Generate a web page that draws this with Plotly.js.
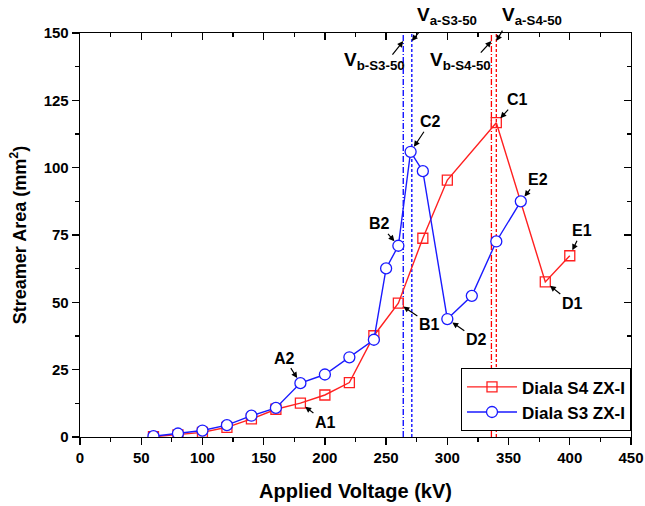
<!DOCTYPE html>
<html>
<head>
<meta charset="utf-8">
<script src="https://cdn.plot.ly/plotly-3.0.1.min.js"></script>
<style>html,body{margin:0;padding:0;background:#fff;}#chart{width:645px;height:506px;}</style>
</head>
<body>
<div id="chart"></div>
<script>
// ---- data ----
const voltS4 = [60, 80, 100, 120, 140, 160, 180, 200, 220, 240, 260, 280, 300, 340, 380, 400];
const areaS4 = [0.1, 0.8, 1.7, 3.6, 6.7, 10.3, 12.6, 15.6, 20.2, 37.6, 49.7, 73.8, 95.4, 116.7, 57.6, 67.3];
const voltS3 = [60, 80, 100, 120, 140, 160, 180, 200, 220, 240, 250, 260, 270, 280, 300, 320, 340, 360];
const areaS3 = [0.3, 1.3, 2.4, 4.4, 7.9, 10.8, 20.0, 23.2, 29.6, 36.1, 62.6, 71.0, 105.9, 98.7, 43.8, 52.4, 72.6, 87.5];
const seriesNames = ['Diala S4 ZX-I', 'Diala S3 ZX-I'];
// breakdown voltages (vertical markers)
const vNames = ['V<sub>b-S3-50</sub>', 'V<sub>a-S3-50</sub>', 'V<sub>b-S4-50</sub>', 'V<sub>a-S4-50</sub>'];
const vVolt = [264, 271, 336, 340];
const vColor = ['#0000ff', '#0000ff', '#ff0000', '#ff0000'];
const vDash = ['6px,2px,1px,2px', '3px,2px', '6px,2px,1px,2px', '3px,2px'];
const vTextShift = [[-29, -20], [35, 25], [-31, -20], [36, 25]];
const vArrowTail = [[-12, 15], [8, -10], [-12, 13], [7, -12]];
// point labels
const ptLabels = ['A1', 'B1', 'C1', 'D1', 'E1', 'A2', 'B2', 'C2', 'D2', 'E2'];
const ptVolt = [180, 260, 340, 380, 400, 180, 260, 270, 300, 360];
const ptSeries = [0, 0, 0, 0, 0, 1, 1, 1, 1, 1];
const ptOff = [[25, 19], [31, 21], [21, -23], [27, 22], [12, -25], [-16, -25], [-19, -22], [20, -30], [29, 20], [17, -22]];
const yRange = [0, 150];
const xRange = [0, 450];
const vArrowY = 147;

const FONT = 'Liberation Sans, Arial, sans-serif';

const traces = [];
vVolt.forEach((v, i) => {
  traces.push({
    x: [v, v], y: yRange, mode: 'lines', showlegend: false, hoverinfo: 'skip',
    line: {color: vColor[i], width: 1.3, dash: vDash[i]}
  });
});
traces.push({
  x: voltS4, y: areaS4, name: seriesNames[0], mode: 'lines+markers',
  line: {color: '#ff2020', width: 1.4},
  marker: {symbol: 'square-open', size: 10, color: '#ff2020', line: {width: 1.3}}
});
traces.push({
  x: voltS3, y: areaS3, name: seriesNames[1], mode: 'lines+markers',
  line: {color: '#1a1aff', width: 1.4},
  marker: {symbol: 'circle', size: 11, color: '#ffffff', line: {color: '#1a1aff', width: 1.3}}
});
// invisible trace for the mirrored axes
traces.push({x: [], y: [], xaxis: 'x2', yaxis: 'y2', showlegend: false, hoverinfo: 'skip'});

const annotations = [];
ptLabels.forEach((t, i) => {
  const xs = ptSeries[i] === 0 ? voltS4 : voltS3;
  const ys = ptSeries[i] === 0 ? areaS4 : areaS3;
  const k = xs.indexOf(ptVolt[i]);
  annotations.push({
    x: xs[k], y: ys[k], xref: 'x', yref: 'y', text: '<b>' + t + '</b>',
    showarrow: true, ax: ptOff[i][0], ay: ptOff[i][1],
    arrowhead: 2, arrowsize: 1, arrowwidth: 1.2, arrowcolor: '#000', standoff: 6,
    font: {family: FONT, size: 16, color: '#000'}
  });
});
vNames.forEach((t, i) => {
  // label text
  annotations.push({
    x: vVolt[i], y: vArrowY, xref: 'x', yref: 'y',
    text: '<b>' + t.replace('<sub>', '<sub><b>').replace('</sub>', '</b></sub>') + '</b>',
    showarrow: false, xshift: vTextShift[i][0], yshift: vTextShift[i][1],
    font: {family: FONT, size: 19, color: '#000'}
  });
  // arrow
  annotations.push({
    x: vVolt[i], y: vArrowY, xref: 'x', yref: 'y', text: '',
    showarrow: true, ax: vArrowTail[i][0], ay: vArrowTail[i][1],
    arrowhead: 2, arrowsize: 1, arrowwidth: 1.2, arrowcolor: '#000', standoff: 0
  });
});

const axisCommon = {
  showline: true, linecolor: '#000', linewidth: 1.3, showgrid: false, zeroline: false,
  tickcolor: '#000', tickwidth: 1.3,
  tickfont: {family: FONT, size: 15, color: '#000', weight: 'bold'}
};

const layout = {
  width: 645, height: 506,
  margin: {l: 80, r: 14, t: 33, b: 69},
  paper_bgcolor: '#fff', plot_bgcolor: '#fff',
  showlegend: true,
  legend: {
    x: 1, xanchor: 'right', y: 0.014, yanchor: 'bottom',
    bordercolor: '#000', borderwidth: 1, bgcolor: '#fff',
    font: {family: FONT, size: 17, color: '#000', weight: 'bold'},
    tracegroupgap: 0, itemwidth: 50
  },
  xaxis: Object.assign({}, axisCommon, {
    range: xRange, dtick: 50, tick0: 0, ticks: 'outside', ticklen: 7,
    minor: {dtick: 25, ticks: 'outside', ticklen: 4, tickcolor: '#000', tickwidth: 1.3},
    title: {text: '<b>Applied Voltage (kV)</b>', font: {family: FONT, size: 20, color: '#000'}, standoff: 18}
  }),
  yaxis: Object.assign({}, axisCommon, {
    range: yRange, dtick: 25, tick0: 0, ticks: 'outside', ticklen: 7,
    minor: {dtick: 12.5, ticks: 'outside', ticklen: 4, tickcolor: '#000', tickwidth: 1.3},
    title: {text: '<b>Streamer Area (mm<sup>2</sup>)</b>', font: {family: FONT, size: 18, color: '#000'}, standoff: 12}
  }),
  xaxis2: Object.assign({}, axisCommon, {
    overlaying: 'x', side: 'top', anchor: 'y', range: xRange, dtick: 50, tick0: 0,
    ticks: 'inside', ticklen: 7, showticklabels: false,
    minor: {dtick: 25, ticks: 'inside', ticklen: 4, tickcolor: '#000', tickwidth: 1.3}
  }),
  yaxis2: Object.assign({}, axisCommon, {
    overlaying: 'y', side: 'right', anchor: 'x', range: yRange, dtick: 25, tick0: 0,
    ticks: 'inside', ticklen: 7, showticklabels: false,
    minor: {dtick: 12.5, ticks: 'inside', ticklen: 4, tickcolor: '#000', tickwidth: 1.3}
  }),
  annotations: annotations
};

Plotly.newPlot('chart', traces, layout, {staticPlot: true, displayModeBar: false});
</script>
</body>
</html>
